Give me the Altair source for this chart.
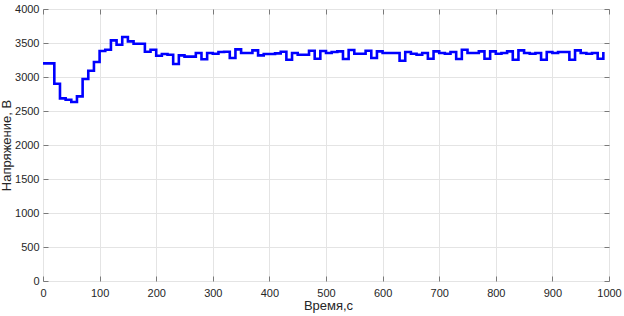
import altair as alt
import pandas as pd

# sample times (s)
time_s = [0, 10, 20, 30, 40, 50, 60, 70, 80, 90,
          100, 110, 120, 130, 140, 150, 160, 170, 180, 190,
          200, 210, 220, 230, 240, 250, 260, 270, 280, 290,
          300, 310, 320, 330, 340, 350, 360, 370, 380, 390,
          400, 410, 420, 430, 440, 450, 460, 470, 480, 490,
          500, 510, 520, 530, 540, 550, 560, 570, 580, 590,
          600, 610, 620, 630, 640, 650, 660, 670, 680, 690,
          700, 710, 720, 730, 740, 750, 760, 770, 780, 790,
          800, 810, 820, 830, 840, 850, 860, 870, 880, 890,
          900, 910, 920, 930, 940, 950, 960, 970, 980, 990]

# voltage (V)
voltage = [3200, 3200, 2900, 2685, 2666, 2632, 2715, 2971, 3093, 3221,
           3382, 3401, 3538, 3475, 3588, 3524, 3490, 3490, 3372, 3401,
           3313, 3338, 3328, 3191, 3318, 3300, 3300, 3353, 3260, 3353,
           3343, 3367, 3372, 3279, 3406, 3353, 3353, 3391, 3318, 3338,
           3338, 3348, 3372, 3254, 3353, 3328, 3328, 3385, 3269, 3382,
           3353, 3367, 3377, 3264, 3397, 3343, 3343, 3385, 3279, 3377,
           3352, 3352, 3352, 3240, 3367, 3343, 3328, 3352, 3269, 3377,
           3352, 3343, 3367, 3264, 3401, 3352, 3352, 3377, 3269, 3377,
           3343, 3352, 3377, 3254, 3392, 3352, 3343, 3352, 3254, 3367,
           3352, 3367, 3367, 3254, 3392, 3352, 3343, 3352, 3269, 3367]

x_ticks = [0, 100, 200, 300, 400, 500, 600, 700, 800, 900, 1000]
y_ticks = [0, 500, 1000, 1500, 2000, 2500, 3000, 3500, 4000]

x_title = "Время,с"
y_title = "Напряжение, В"

df = pd.DataFrame({"t": time_s, "v": voltage})

W, H = 566, 272
FONT = "Liberation Sans"
TXT = "#262626"
AX = "#7a7a7a"
GRID = "#e4e4e4"

xs = alt.Scale(domain=[0, 1000], nice=False, zero=False)
ys = alt.Scale(domain=[0, 4000], nice=False)

base = alt.Chart(df)

main = base.mark_line(interpolate="step-after", color="#0000ff", strokeWidth=2.6).encode(
    x=alt.X("t:Q", scale=xs, axis=alt.Axis(
        orient="bottom", values=x_ticks, format="d", grid=True, gridColor=GRID,
        domain=False, ticks=False, labelPadding=6, labelFlush=False,
        labelOverlap=False, labelFont=FONT, labelFontSize=11,
        labelColor=TXT, title=x_title, titleFont=FONT, titleFontSize=13,
        titleFontWeight="normal", titleColor=TXT, titleX=W / 2 + 2, titleY=28,
        titleAlign="center", titleBaseline="alphabetic")),
    y=alt.Y("v:Q", scale=ys, axis=alt.Axis(
        orient="left", values=y_ticks, format="d", grid=True, gridColor=GRID,
        domain=False, ticks=False, labelPadding=4, labelFlush=False,
        labelOverlap=False, labelFont=FONT, labelFontSize=11,
        labelColor=TXT, title=y_title, titleFont=FONT, titleFontSize=13,
        titleFontWeight="normal", titleColor=TXT, titleAngle=270, titleX=-33,
        titleY=H / 2, titleAlign="center", titleBaseline="alphabetic")),
)

def tick_axis(orient, values, offset):
    return alt.Axis(orient=orient, values=values, offset=offset, labels=False,
                    domain=False, grid=False, ticks=True, tickSize=5,
                    tickColor=AX, tickWidth=1, title=None)

ticks_a = base.mark_line(opacity=0).encode(
    x=alt.X("t:Q", scale=xs, axis=tick_axis("top", x_ticks, -H)),
    y=alt.Y("v:Q", scale=ys, axis=tick_axis("right", y_ticks, -W)),
)
ticks_b = base.mark_line(opacity=0).encode(
    x=alt.X("t:Q", scale=xs, axis=tick_axis("bottom", x_ticks, -H)),
    y=alt.Y("v:Q", scale=ys, axis=tick_axis("left", y_ticks, -W)),
)

chart = alt.layer(main, ticks_a, ticks_b).resolve_axis(
    x="independent", y="independent"
).properties(
    width=W, height=H,
    autosize=alt.AutoSizeParams(type="none"),
    padding={"left": 43, "top": 9, "right": 15, "bottom": 35},
).configure_view(stroke=AX, strokeWidth=1).configure(background="white")

chart.save("out.html", embed_options={"renderer": "svg", "actions": False})
